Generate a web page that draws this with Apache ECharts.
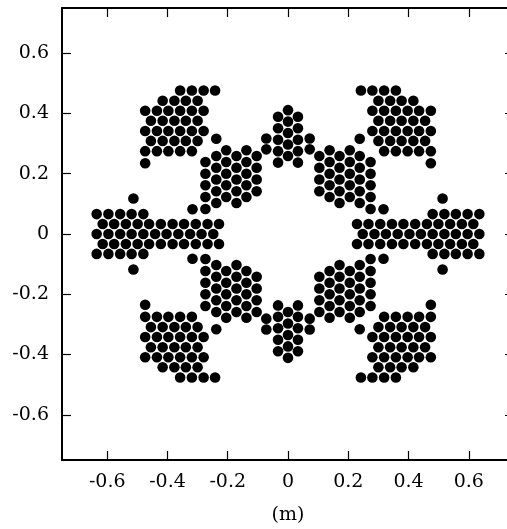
<!DOCTYPE html>
<html>
<head>
<meta charset="utf-8">
<script src="https://cdn.jsdelivr.net/npm/echarts@6/dist/echarts.min.js"></script>
<style>
  html, body { margin: 0; padding: 0; background: #fff; }
  #chart { width: 507px; height: 529px; }
</style>
</head>
<body>
<div id="chart"></div>
<script>
// tick positions (m)
var xTicks = [-0.6, -0.4, -0.2, 0, 0.2, 0.4, 0.6];
var yTicks = [-0.6, -0.4, -0.2, 0, 0.2, 0.4, 0.6];

// horizontal arms: rows of [y, [x...]]
var armLeft = [
  [0.066, [-0.635, -0.596, -0.557, -0.519, -0.480]],
  [0.033, [-0.615, -0.577, -0.538, -0.499, -0.461, -0.422, -0.383, -0.345, -0.306, -0.267, -0.229]],
  [0, [-0.635, -0.596, -0.557, -0.519, -0.480, -0.441, -0.403, -0.364, -0.325, -0.287, -0.248]],
  [-0.033, [-0.615, -0.577, -0.538, -0.499, -0.461, -0.422, -0.383, -0.345, -0.306, -0.267, -0.229]],
  [-0.066, [-0.635, -0.596, -0.557, -0.519, -0.480]]
];
var armRight = [
  [0.066, [0.635, 0.596, 0.557, 0.519, 0.480]],
  [0.033, [0.615, 0.577, 0.538, 0.499, 0.461, 0.422, 0.383, 0.345, 0.306, 0.267, 0.229]],
  [0, [0.635, 0.596, 0.557, 0.519, 0.480, 0.441, 0.403, 0.364, 0.325, 0.287, 0.248]],
  [-0.033, [0.615, 0.577, 0.538, 0.499, 0.461, 0.422, 0.383, 0.345, 0.306, 0.267, 0.229]],
  [-0.066, [0.635, 0.596, 0.557, 0.519, 0.480]]
];

// corner modules: rows of [y, [x...]]
var cornerUL = [
  [0.476, [-0.358, -0.319, -0.280, -0.242]],
  [0.442, [-0.416, -0.377, -0.339, -0.300]],
  [0.409, [-0.474, -0.435, -0.397, -0.358, -0.319, -0.280]],
  [0.376, [-0.455, -0.416, -0.377, -0.339, -0.300]],
  [0.342, [-0.474, -0.435, -0.397, -0.358, -0.319, -0.280]],
  [0.309, [-0.455, -0.416, -0.377, -0.339, -0.300]],
  [0.275, [-0.474, -0.435, -0.397, -0.358, -0.319]]
];
var cornerUR = [
  [0.476, [0.358, 0.319, 0.280, 0.242]],
  [0.442, [0.416, 0.377, 0.339, 0.300]],
  [0.409, [0.474, 0.435, 0.397, 0.358, 0.319, 0.280]],
  [0.376, [0.455, 0.416, 0.377, 0.339, 0.300]],
  [0.342, [0.474, 0.435, 0.397, 0.358, 0.319, 0.280]],
  [0.309, [0.455, 0.416, 0.377, 0.339, 0.300]],
  [0.275, [0.474, 0.435, 0.397, 0.358, 0.319]]
];
var cornerLL = [
  [-0.476, [-0.358, -0.319, -0.280, -0.242]],
  [-0.442, [-0.416, -0.377, -0.339, -0.300]],
  [-0.409, [-0.474, -0.435, -0.397, -0.358, -0.319, -0.280]],
  [-0.376, [-0.455, -0.416, -0.377, -0.339, -0.300]],
  [-0.342, [-0.474, -0.435, -0.397, -0.358, -0.319, -0.280]],
  [-0.309, [-0.455, -0.416, -0.377, -0.339, -0.300]],
  [-0.275, [-0.474, -0.435, -0.397, -0.358, -0.319]]
];
var cornerLR = [
  [-0.476, [0.358, 0.319, 0.280, 0.242]],
  [-0.442, [0.416, 0.377, 0.339, 0.300]],
  [-0.409, [0.474, 0.435, 0.397, 0.358, 0.319, 0.280]],
  [-0.376, [0.455, 0.416, 0.377, 0.339, 0.300]],
  [-0.342, [0.474, 0.435, 0.397, 0.358, 0.319, 0.280]],
  [-0.309, [0.455, 0.416, 0.377, 0.339, 0.300]],
  [-0.275, [0.474, 0.435, 0.397, 0.358, 0.319]]
];

// diagonal modules: columns of [x, [y...]]
var diagUL = [
  [-0.274, [0.239, 0.200, 0.162, 0.123, 0.083]],
  [-0.238, [0.259, 0.220, 0.181, 0.142, 0.103]],
  [-0.205, [0.278, 0.239, 0.200, 0.162, 0.123]],
  [-0.171, [0.259, 0.220, 0.181, 0.142, 0.103]],
  [-0.138, [0.278, 0.239, 0.200, 0.162, 0.123]],
  [-0.104, [0.259, 0.220, 0.181, 0.142]]
];
var diagUR = [
  [0.274, [0.239, 0.200, 0.162, 0.123, 0.083]],
  [0.238, [0.259, 0.220, 0.181, 0.142, 0.103]],
  [0.205, [0.278, 0.239, 0.200, 0.162, 0.123]],
  [0.171, [0.259, 0.220, 0.181, 0.142, 0.103]],
  [0.138, [0.278, 0.239, 0.200, 0.162, 0.123]],
  [0.104, [0.259, 0.220, 0.181, 0.142]]
];
var diagLL = [
  [-0.274, [-0.239, -0.200, -0.162, -0.123, -0.083]],
  [-0.238, [-0.259, -0.220, -0.181, -0.142, -0.103]],
  [-0.205, [-0.278, -0.239, -0.200, -0.162, -0.123]],
  [-0.171, [-0.259, -0.220, -0.181, -0.142, -0.103]],
  [-0.138, [-0.278, -0.239, -0.200, -0.162, -0.123]],
  [-0.104, [-0.259, -0.220, -0.181, -0.142]]
];
var diagLR = [
  [0.274, [-0.239, -0.200, -0.162, -0.123, -0.083]],
  [0.238, [-0.259, -0.220, -0.181, -0.142, -0.103]],
  [0.205, [-0.278, -0.239, -0.200, -0.162, -0.123]],
  [0.171, [-0.259, -0.220, -0.181, -0.142, -0.103]],
  [0.138, [-0.278, -0.239, -0.200, -0.162, -0.123]],
  [0.104, [-0.259, -0.220, -0.181, -0.142]]
];

// centre modules (top / bottom): columns of [x, [y...]]
var centreTop = [
  [-0.072, [0.317, 0.281]],
  [-0.033, [0.389, 0.351, 0.313, 0.275, 0.237]],
  [0, [0.411, 0.373, 0.335, 0.297, 0.259]],
  [0.033, [0.389, 0.351, 0.313, 0.275, 0.237]],
  [0.072, [0.317, 0.281]]
];
var centreBottom = [
  [-0.072, [-0.317, -0.281]],
  [-0.033, [-0.389, -0.351, -0.313, -0.275, -0.237]],
  [0, [-0.411, -0.373, -0.335, -0.297, -0.259]],
  [0.033, [-0.389, -0.351, -0.313, -0.275, -0.237]],
  [0.072, [-0.317, -0.281]]
];

// single elements
var singles = [
  [-0.513, 0.118], [-0.513, -0.118], [0.513, 0.118], [0.513, -0.118],
  [-0.474, 0.235], [-0.474, -0.235], [0.474, 0.235], [0.474, -0.235],
  [-0.238, 0.316], [-0.238, -0.316], [0.238, 0.316], [0.238, -0.316],
  [-0.317, 0.082], [-0.317, -0.082], [0.317, 0.082], [0.317, -0.082]
];

function fromRows(rows) {
  var pts = [];
  rows.forEach(function (r) { r[1].forEach(function (x) { pts.push([x, r[0]]); }); });
  return pts;
}
function fromCols(cols) {
  var pts = [];
  cols.forEach(function (c) { c[1].forEach(function (y) { pts.push([c[0], y]); }); });
  return pts;
}

var serif = 'DejaVu Serif, Liberation Serif, serif';

function dots(data) {
  return {
    type: 'scatter',
    data: data,
    symbol: 'circle',
    symbolSize: 10.6,
    itemStyle: { color: '#000', opacity: 1 },
    silent: true
  };
}

function frameAxis(pos, ticks, labels) {
  return {
    type: 'value',
    position: pos,
    min: -0.75,
    max: 0.75,
    axisLine: { show: true, onZero: false, lineStyle: { color: '#000', width: 2 } },
    axisTick: { show: true, inside: true, length: 9, customValues: ticks, lineStyle: { color: '#000', width: 1.2 } },
    axisLabel: { show: labels, customValues: ticks, color: '#000', fontFamily: serif, fontSize: 19, margin: 13 },
    splitLine: { show: false }
  };
}

var chart = echarts.init(document.getElementById('chart'));

var xBottom = frameAxis('bottom', xTicks, true);
xBottom.name = '(m)';
xBottom.nameLocation = 'middle';
xBottom.nameGap = 46;
xBottom.nameTextStyle = { color: '#000', fontFamily: serif, fontSize: 19 };

chart.setOption({
  animation: false,
  backgroundColor: '#fff',
  grid: { left: 62, top: 8, width: 452, height: 452, outerBoundsMode: 'none' },
  xAxis: [xBottom, frameAxis('top', xTicks, false)],
  yAxis: [frameAxis('left', yTicks, true), frameAxis('right', yTicks, false)],
  series: [
    dots(fromRows(armLeft)),
    dots(fromRows(armRight)),
    dots(fromRows(cornerUL)),
    dots(fromRows(cornerUR)),
    dots(fromRows(cornerLL)),
    dots(fromRows(cornerLR)),
    dots(fromCols(diagUL)),
    dots(fromCols(diagUR)),
    dots(fromCols(diagLL)),
    dots(fromCols(diagLR)),
    dots(fromCols(centreTop)),
    dots(fromCols(centreBottom)),
    dots(singles)
  ]
});
</script>
</body>
</html>
